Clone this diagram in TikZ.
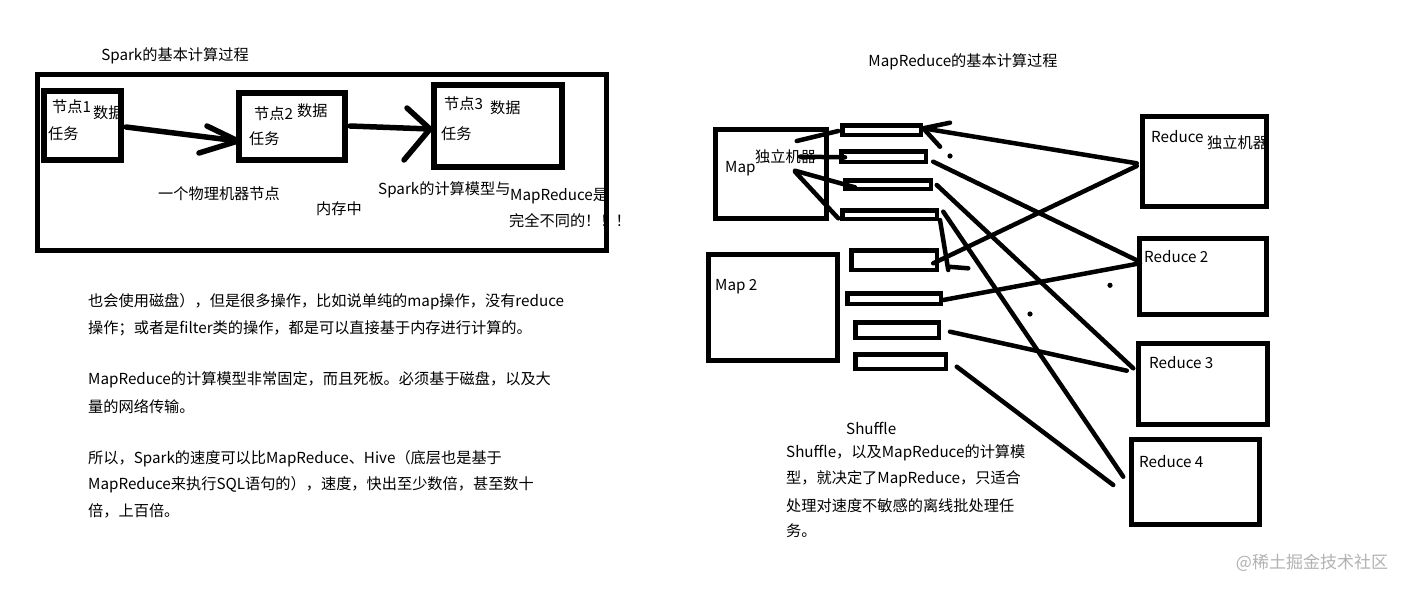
\documentclass[tikz,border=0pt]{standalone}
\usepackage{fontspec}
\setmainfont{Noto Sans CJK SC}
\begin{document}
\begin{tikzpicture}[x=1pt,y=-1pt,
  font=\fontsize{15.2}{18}\selectfont,
  bx/.style={draw, line width=5pt, inner sep=0pt, outer sep=0pt},
  nbx/.style={draw, line width=6pt, inner sep=0pt, outer sep=0pt},
  pbx/.style={draw, line width=4.5pt, inner sep=0pt, outer sep=0pt},
  tx/.style={inner sep=0pt, anchor=west},
  ln/.style={line width=4.5pt, line cap=round},
  arr/.style={line width=5.5pt, line cap=round, line join=round},
  dotc/.style={fill=black}]
\useasboundingbox (0,0) rectangle (1410,592);
\fill[white] (0,0) rectangle (1410,592);

% ---------------- left: Spark ----------------
\node[inner sep=0pt] (spt) at (175,56) {Spark的基本计算过程};

\node[tx] (n1a) at (52,107) {节点1};
\node[tx] (n1b) at (93,113) {数据};
\node[tx] (n1c) at (48,134) {任务};
\node[tx] (n2a) at (254,114) {节点2};
\node[tx] (n2b) at (297,111) {数据};
\node[tx] (n2c) at (249,139) {任务};
\node[tx] (n3a) at (444,104) {节点3};
\node[tx] (n3b) at (490,108) {数据};
\node[tx] (n3c) at (441,134) {任务};

\node[inner sep=0pt] (phys) at (219,194) {一个物理机器节点};
\node[inner sep=0pt] (mem) at (339,209) {内存中};
\node[tx] (cmp1) at (378,190) {Spark的计算模型与};
\node[tx] (cmp2) at (510,196) {MapReduce是};
\node[tx] (cmp3) at (509,221) {完全不同的！！！};

\node[bx, minimum width=569, minimum height=176] (outer) at (322,162.5) {};
\node[nbx, minimum width=77, minimum height=69] (n1) at (82.5,125.5) {};
\node[nbx, minimum width=106, minimum height=67] (n2) at (292,126.5) {};
\node[nbx, minimum width=128, minimum height=82] (n3) at (498,126) {};

% arrows node1 -> node2 -> node3
\draw[arr] ([shift={(5,1.5)}]n1.east) -- ([shift={(-1,14.5)}]n2.west);
\draw[arr] (207,126) -- ([shift={(-1,14.5)}]n2.west) -- (199,153);
\draw[arr] ([shift={(5,-0.5)}]n2.east) -- ([shift={(-4,3)}]n3.west);
\draw[arr] (407,108) -- ([shift={(-4,3)}]n3.west) -- (404,160);

% left paragraph text
\node[tx] (p1) at (88,302) {也会使用磁盘），但是很多操作，比如说单纯的map操作，没有reduce};
\node[tx] (p2) at (88,328) {操作；或者是filter类的操作，都是可以直接基于内存进行计算的。};
\node[tx] (p3) at (88,380) {MapReduce的计算模型非常固定，而且死板。必须基于磁盘，以及大};
\node[tx] (p4) at (88,407) {量的网络传输。};
\node[tx] (p5) at (88,459) {所以，Spark的速度可以比MapReduce、Hive（底层也是基于};
\node[tx] (p6) at (88,485) {MapReduce来执行SQL语句的），速度，快出至少数倍，甚至数十};
\node[tx] (p7) at (88,511) {倍，上百倍。};

% ---------------- right: MapReduce ----------------
\node[inner sep=0pt] (mrt) at (963,62) {MapReduce的基本计算过程};

\node[bx, minimum width=111.5, minimum height=89.5] (map) at (771,174) {};
\node[bx, minimum width=129.5, minimum height=106.5] (map2) at (773,307.5) {};
\node[bx, minimum width=124.5, minimum height=90.5] (red1) at (1204.5,161.5) {};
\node[bx, minimum width=127.5, minimum height=76.5] (red2) at (1203,276.5) {};
\node[bx, minimum width=129.5, minimum height=81.5] (red3) at (1203,384) {};
\node[bx, minimum width=128.5, minimum height=85.5] (red4) at (1195.5,482) {};

\node[pbx, minimum width=78.5, minimum height=9.5] (r1) at (881.5,130) {};
\node[pbx, minimum width=84.5, minimum height=10.5] (r2) at (883.5,156.5) {};
\node[pbx, minimum width=85.5, minimum height=8.5] (r3) at (888,184.5) {};
\node[pbx, minimum width=94.5, minimum height=8.5] (r4) at (889.5,214.5) {};
\node[pbx, minimum width=85.5, minimum height=19.5] (r5) at (894,260) {};
\node[pbx, minimum width=93.5, minimum height=10.5] (r6) at (894,298.5) {};
\node[pbx, minimum width=83.5, minimum height=15.5] (r7) at (897,330) {};
\node[pbx, minimum width=90.5, minimum height=14.5] (r8) at (900.5,361.5) {};

\node[tx] (mapl) at (725,169) {Map};
\node[tx] (mapm) at (755,157) {独立机器};
\node[tx] (map2l) at (715,287) {Map 2};
\node[tx] (red1l) at (1151,137) {Reduce};
\node[tx] (red1m) at (1207,143) {独立机器};
\node[tx] (red2l) at (1144,257) {Reduce 2};
\node[tx] (red3l) at (1149,363) {Reduce 3};
\node[tx] (red4l) at (1139,462) {Reduce 4};

% map -> partitions
\draw[ln] ([shift={(-30,-33)}]map.east) -- ([shift={(-4,1)}]r1.west);
\draw[ln] ([shift={(-26.75,-17.3)}]map.east) -- ([shift={(3.75,0.8)}]r2.west);
\draw[ln] ([shift={(-31.75,-3.3)}]map.east) -- ([shift={(9.75,2.8)}]r3.west);
\draw[ln] ([shift={(-31.75,-2.3)}]map.east) -- ([shift={(-4,3.8)}]r4.west);

% shuffle lines
\draw[ln] ([shift={(-5.5,1.8)}]red1.west) -- ([shift={(2.5,-1.7)}]r1.east);
\draw[ln, line join=round] ([shift={(29.25,-7.3)}]r1.east) -- ([shift={(2.5,-1.7)}]r1.east) -- ([shift={(19.25,16.7)}]r1.east);
\draw[ln] ([shift={(-5.5,4.5)}]red1.west) -- ([shift={(-3.5,3.3)}]r5.east);
\draw[ln] ([shift={(3.25,5.5)}]r4.east) -- ([shift={(11.5,10)}]r5.east);
\draw[ln] ([shift={(11.5,6.7)}]r5.east) -- ([shift={(31.5,8.3)}]r5.east);
\draw[ln] ([shift={(7.5,5.2)}]r2.east) -- ([shift={(-1,-15.5)}]red2.west);
\draw[ln] ([shift={(6,0.5)}]r3.east) -- ([shift={(-5,-15.7)}]red3.west);
\draw[ln] ([shift={(6.5,-2.8)}]r4.east) -- ([shift={(-8,-5.3)}]red4.west);
\draw[ln] ([shift={(2.5,1.5)}]r6.east) -- ([shift={(0.75,-13.2)}]red2.west);
\draw[ln] ([shift={(11.25,1.7)}]r7.east) -- ([shift={(-11.5,-13.3)}]red3.west);
\draw[ln] ([shift={(11,5.2)}]r8.east) -- ([shift={(-18,3)}]red4.west);

\fill[dotc] (950,156) circle (2.6);
\fill[dotc] (1110,285.3) circle (2.6);
\fill[dotc] (1030,314) circle (2.6);

% shuffle text
\node[tx] (shf) at (846,428) {Shuffle};
\node[tx] (q1) at (786,453) {Shuffle，以及MapReduce的计算模};
\node[tx] (q2) at (786,479) {型，就决定了MapReduce，只适合};
\node[tx] (q3) at (786,506) {处理对速度不敏感的离线批处理任};
\node[tx] (q4) at (786,531) {务。};

% watermark
\node[inner sep=0pt, text=black!30, font=\fontsize{17}{20}\selectfont] (wm) at (1312,563) {@稀土掘金技术社区};
\end{tikzpicture}
\end{document}
